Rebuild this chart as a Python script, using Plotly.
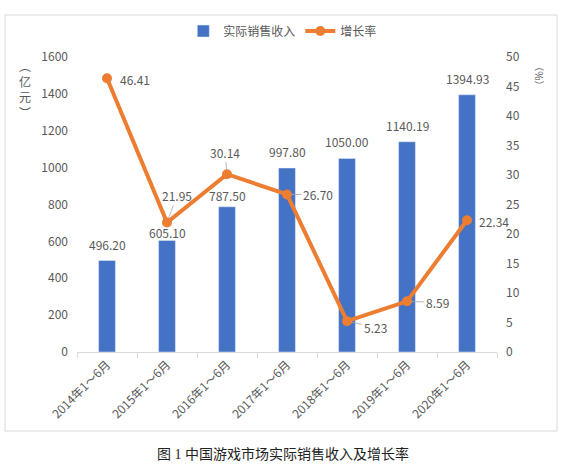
import plotly.graph_objects as go

# data
periods = ["2014年1～6月", "2015年1～6月", "2016年1～6月", "2017年1～6月",
           "2018年1～6月", "2019年1～6月", "2020年1～6月"]
revenue = [496.20, 605.10, 787.50, 997.80, 1050.00, 1140.19, 1394.93]
growth = [46.41, 21.95, 30.14, 26.70, 5.23, 8.59, 22.34]

BLUE = "#4472C4"
ORANGE = "#ED7D31"
GREY = "#595959"
FONT = "Noto Sans CJK SC, Noto Sans, sans-serif"

fig = go.Figure()
fig.add_trace(go.Bar(x=periods, y=revenue, name="实际销售收入",
                     marker_color=BLUE, width=0.28))
fig.add_trace(go.Scatter(x=periods, y=growth, name="增长率", yaxis="y2",
                         mode="lines+markers",
                         line=dict(color=ORANGE, width=4),
                         marker=dict(color=ORANGE, size=10)))

# bar value labels (pixel nudges only)
bar_shift = [6, -3, 1, 6, 6, 6, 6]
for p, v, s in zip(periods, revenue, bar_shift):
    fig.add_annotation(x=p, y=v, yref="y", text=f"{v:.2f}", showarrow=False,
                       yanchor="bottom", yshift=s,
                       font=dict(size=12, color=GREY, family=FONT))

# growth labels with leader lines: (ax, ay, leader visible)
line_off = [(28, 1, False), (10, -27, True), (-2, -22, True), (31, 0, True),
            (28, 6, True), (30, 1, True), (27, 1, False)]
for p, v, (ax, ay, lead) in zip(periods, growth, line_off):
    fig.add_annotation(x=p, y=v, yref="y2", text=f"{v:.2f}", showarrow=True,
                       ax=ax, ay=ay, arrowhead=0, arrowwidth=0.8, standoff=4,
                       arrowcolor="#A6A6A6" if lead else "rgba(0,0,0,0)",
                       font=dict(size=12, color=GREY, family=FONT))

# axis titles
fig.add_annotation(xref="paper", yref="paper", x=-0.124, y=0.89,
                   xanchor="center", yanchor="middle",
                   text="︵<br>亿<br>元<br>︶", showarrow=False,
                   font=dict(size=12, color=GREY, family=FONT))
fig.add_annotation(xref="paper", yref="paper", x=1.102, y=0.935,
                   xanchor="center", yanchor="middle",
                   text="（%）", textangle=90, showarrow=False,
                   font=dict(size=10, color=GREY, family=FONT))

# caption under the chart frame
fig.add_annotation(xref="paper", yref="paper", x=0.49, y=-0.345,
                   xanchor="center", yanchor="middle",
                   text="图 1 中国游戏市场实际销售收入及增长率", showarrow=False,
                   font=dict(size=14, color="#222222",
                             family="Liberation Serif, Noto Sans CJK SC"))

# chart border
fig.add_shape(type="rect", xref="paper", yref="paper",
              x0=-0.1714, x1=1.1429, y0=-0.2678, y1=1.1424,
              line=dict(color="#D9D9D9", width=1))

fig.update_layout(
    width=567, height=469,
    margin=dict(l=77, r=70, t=57, b=117),
    paper_bgcolor="white", plot_bgcolor="white",
    font=dict(family=FONT, color=GREY, size=12),
    showlegend=True,
    legend=dict(orientation="h", x=0.49, xanchor="center", y=1.088,
                yanchor="middle", font=dict(size=12, color=GREY),
                bgcolor="rgba(0,0,0,0)"),
    xaxis=dict(type="category", range=[-0.5, len(periods) - 0.5],
               tickangle=-45, showline=True,
               linecolor="#D9D9D9", ticks="outside", tickson="boundaries",
               ticklen=5, tickcolor="#D9D9D9", showgrid=False,
               automargin=False, tickfont=dict(size=12, color=GREY)),
    yaxis=dict(range=[0, 1600], dtick=200, showgrid=False, zeroline=False,
               showline=False, ticks="", ticklabelstandoff=8,
               automargin=False, tickfont=dict(size=12, color=GREY)),
    yaxis2=dict(range=[0, 50], dtick=5, overlaying="y", side="right",
                showgrid=False, zeroline=False, showline=False,
                ticklabelstandoff=8, automargin=False,
                tickfont=dict(size=12, color=GREY)),
)

# drop the browser's default body margin so the figure sits at 0,0
fig.write_html("out.html", config={"displayModeBar": False},
               post_script="document.body.style.margin='0';")
